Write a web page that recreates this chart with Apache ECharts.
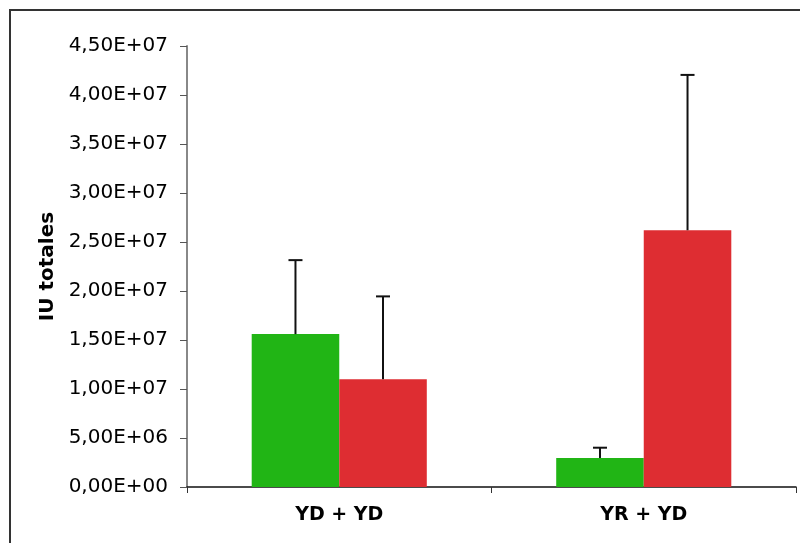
<!DOCTYPE html>
<html><head><meta charset="utf-8">
<script src="https://cdn.jsdelivr.net/npm/echarts@6/dist/echarts.min.js"></script>
<style>html,body{margin:0;padding:0;background:#fff}#c{width:800px;height:543px}
#frame{position:absolute;left:9px;top:9px;width:900px;height:600px;border:2px solid #333;box-sizing:border-box;pointer-events:none}</style>
</head><body>
<div id="c"></div>
<div id="frame"></div>
<script>
const categories = ['YD + YD', 'YR + YD'];
const greenValues = [1.56e7, 2.96e6];
const greenErrors = [7.55e6, 1.05e6];
const redValues = [1.10e7, 2.62e7];
const redErrors = [8.45e6, 1.585e7];
const yTicks = [0, 4.5e7, 5e6];

function fmt(v) {
  if (v === 0) return '0,00E+00';
  const e = Math.floor(Math.log10(v) + 1e-9);
  const m = v / Math.pow(10, e);
  return m.toFixed(2).replace('.', ',') + 'E+' + String(e).padStart(2, '0');
}

const FONT = "'DejaVu Sans', 'Liberation Sans', Arial, sans-serif";
const gap = 0.425;
function errSeries(values, errors, side) {
  return {
    type: 'custom',
    z: 5,
    data: values.map((v, i) => [i, v, v + errors[i]]),
    renderItem: function (params, api) {
      const cw = api.size([1, 0])[0];
      const bw = cw * (1 - gap) / 2;
      const c0 = api.coord([api.value(0), api.value(1)]);
      const c1 = api.coord([api.value(0), api.value(2)]);
      const x = c0[0] + side * bw / 2;
      const st = { stroke: '#111', lineWidth: 2 };
      return { type: 'group', children: [
        { type: 'line', shape: { x1: x, y1: c0[1], x2: x, y2: c1[1] }, style: st },
        { type: 'line', shape: { x1: x - 7, y1: c1[1], x2: x + 7, y2: c1[1] }, style: st }
      ]};
    }
  };
}

const chart = echarts.init(document.getElementById('c'), null, { renderer: 'canvas' });
chart.setOption({
  animation: false,
  backgroundColor: '#fff',
  grid: { left: 187, right: 4, top: 46, bottom: 56, containLabel: false },
  xAxis: {
    type: 'category', data: categories,
    axisLine: { lineStyle: { color: '#111', width: 1.5 } },
    axisTick: { show: true, length: 6, lineStyle: { color: '#333' } },
    axisLabel: { color: '#000', fontFamily: FONT, fontWeight: 'bold', fontSize: 19, margin: 19 }
  },
  yAxis: {
    type: 'value', min: yTicks[0], max: yTicks[1], interval: yTicks[2],
    name: 'IU totales', nameLocation: 'middle', nameGap: 128, nameRotate: 90,
    nameTextStyle: { color: '#000', fontFamily: FONT, fontWeight: 'bold', fontSize: 20 },
    axisLine: { show: true, lineStyle: { color: '#888', width: 2 } },
    axisTick: { show: true, length: 7, lineStyle: { color: '#555' } },
    splitLine: { show: false },
    axisLabel: { color: '#000', fontFamily: FONT, fontSize: 20, margin: 19, formatter: fmt }
  },
  series: [
    { type: 'bar', data: greenValues, barGap: '0%', barCategoryGap: (gap * 100) + '%', itemStyle: { color: '#21B515' } },
    { type: 'bar', data: redValues, barGap: '0%', barCategoryGap: (gap * 100) + '%', itemStyle: { color: '#DE2D32' } },
    errSeries(greenValues, greenErrors, -1),
    errSeries(redValues, redErrors, 1)
  ]
});
</script>
</body></html>
